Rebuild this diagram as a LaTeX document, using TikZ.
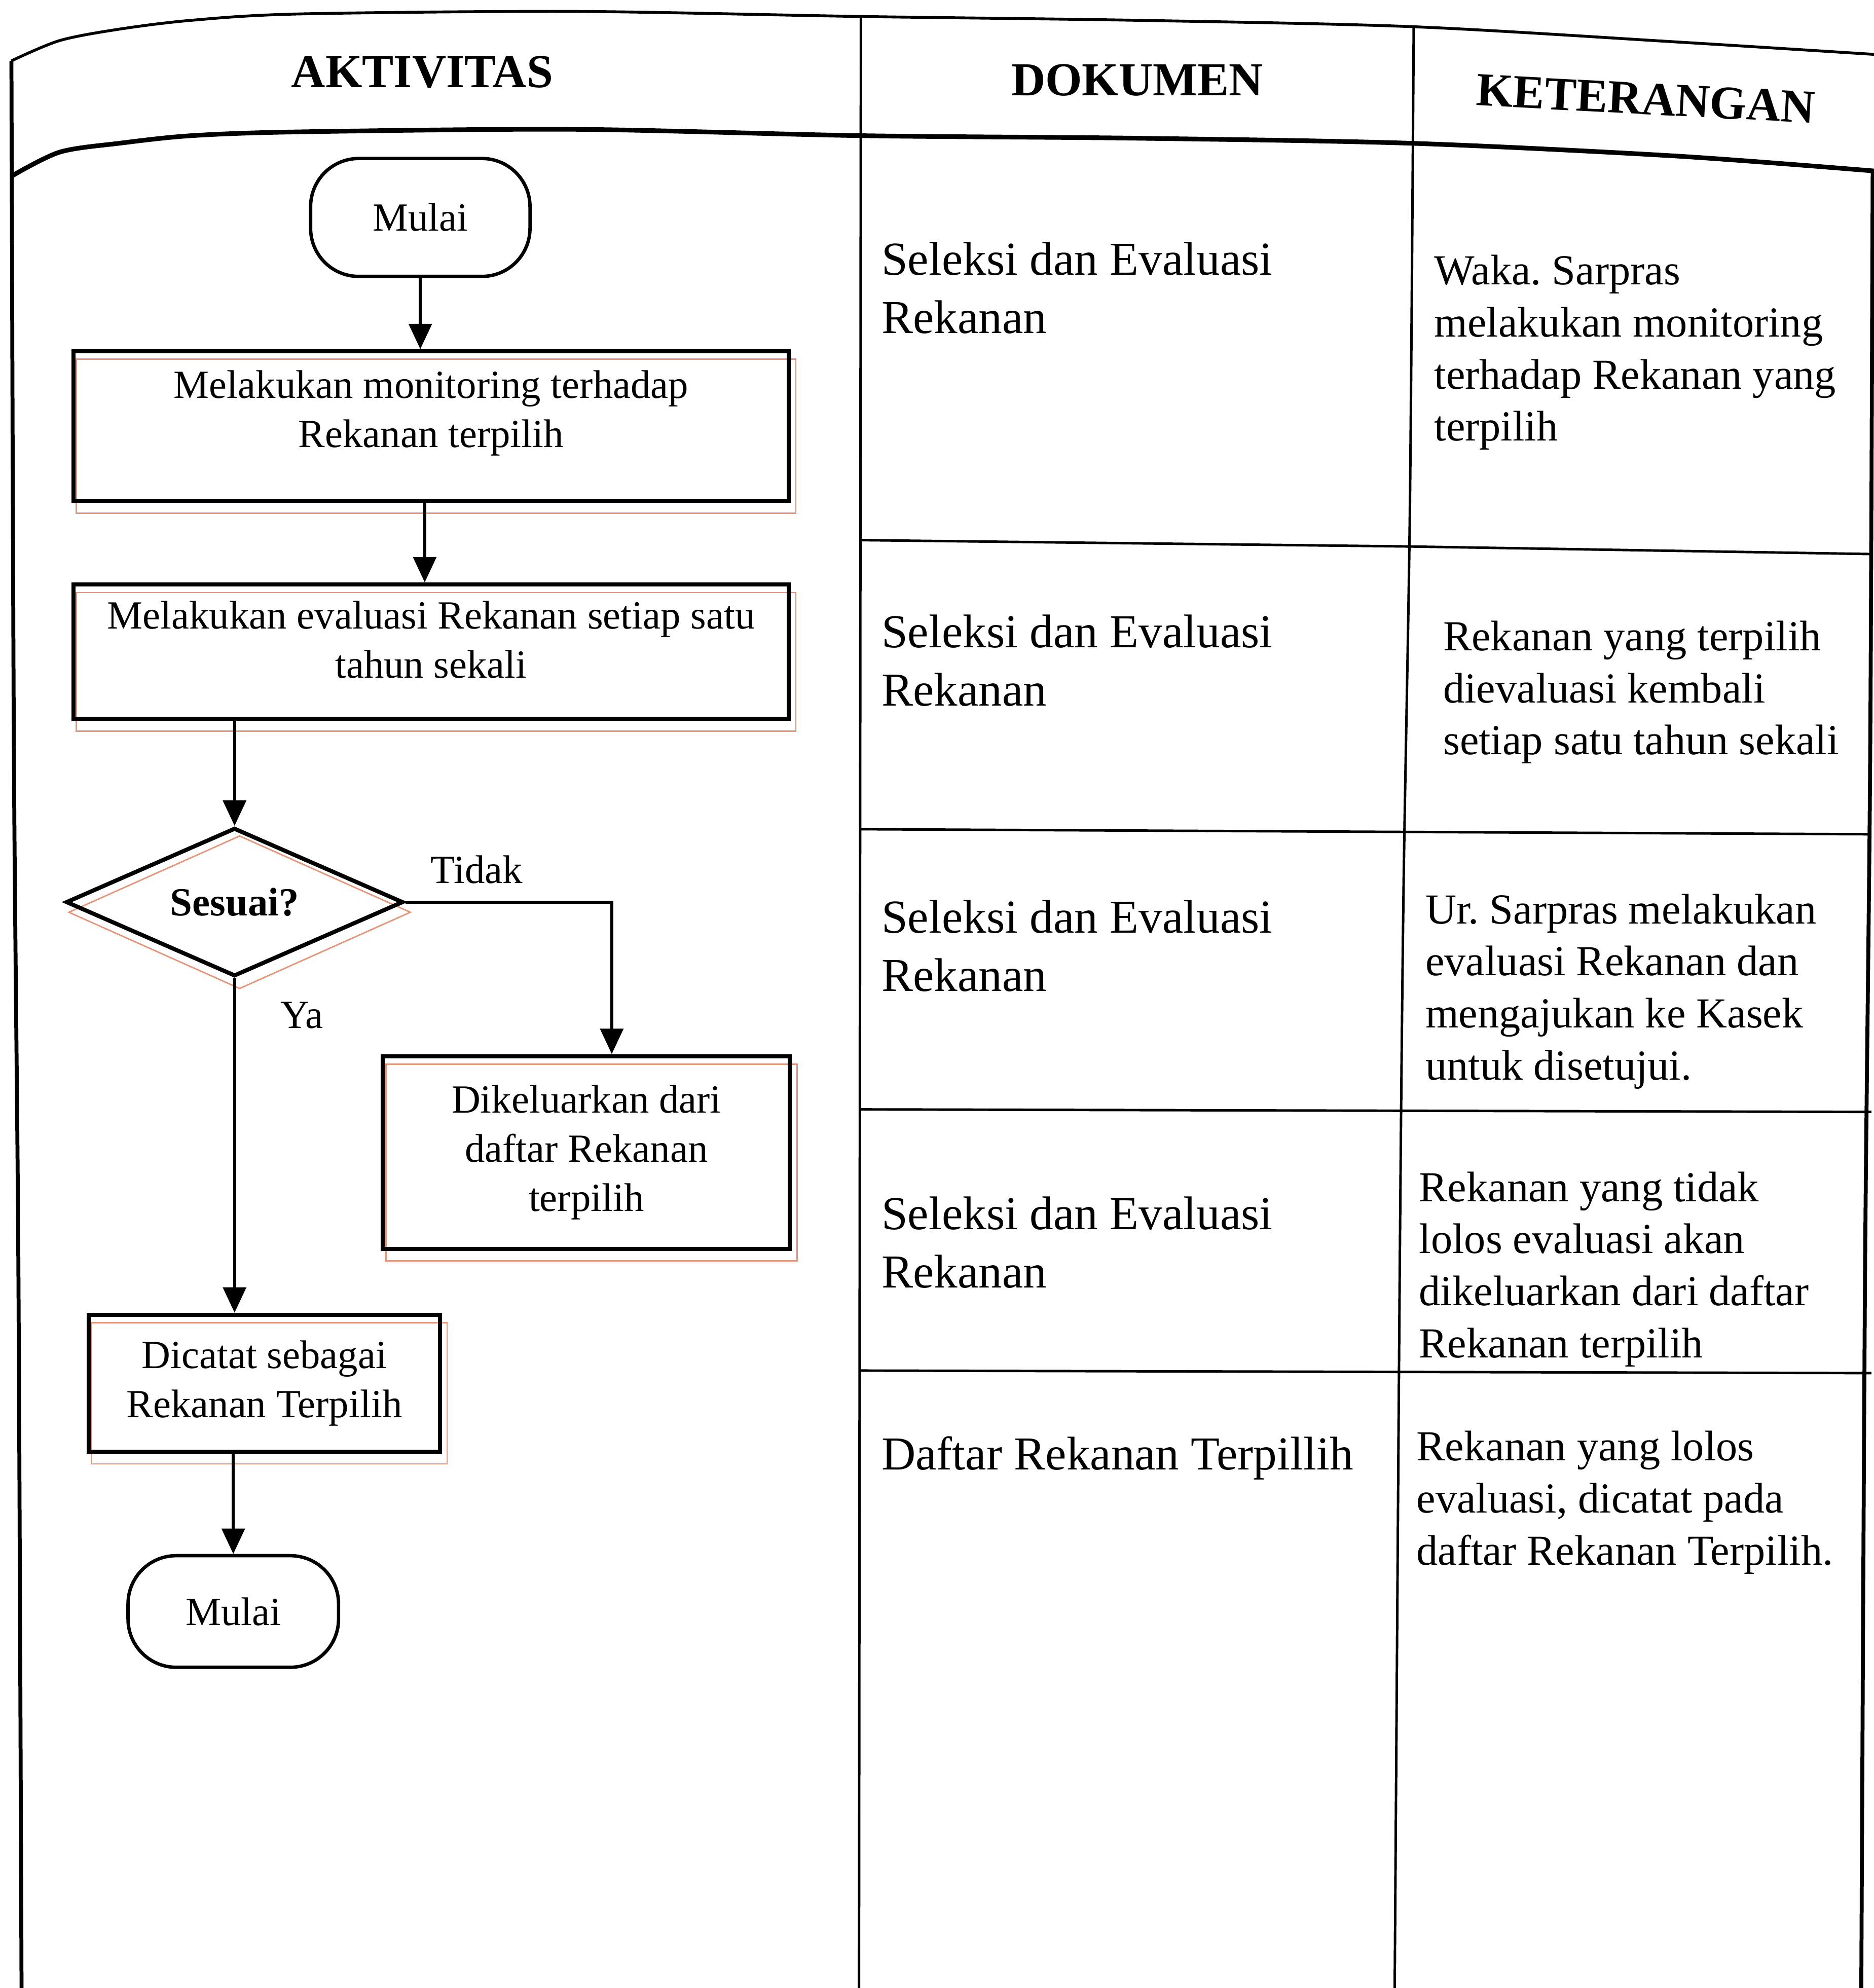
\documentclass[tikz,border=0pt]{standalone}
\usepackage{fontspec}
\setmainfont{Liberation Serif}
\frenchspacing
\usetikzlibrary{arrows.meta,shapes.geometric,backgrounds}
\definecolor{offsetcol}{HTML}{E5957A}
\newcommand\flowfont{\fontsize{22.4}{27.5}\selectfont}
\newcommand\docfont{\fontsize{26.5}{32.7}\selectfont}
\newcommand\notefont{\fontsize{24}{29.2}\selectfont}
\newcommand\headfont{\fontsize{26.5}{32}\selectfont}
% centred lines set a little above the middle of their box
\newcommand\liftlines[2]{\raisebox{#1}[\height][\depth]{\begin{tabular}{@{}c@{}}#2\end{tabular}}}
\tikzset{
  thinrule/.style={line width=1.4pt, black},
  borderrule/.style={line width=2.2pt, black},
  toprule/.style={line width=1.6pt, black},
  headrule/.style={line width=2.6pt, black},
  procbox/.style={draw, line width=2.3pt, rectangle, inner sep=0pt, align=center, font=\flowfont},
  termbox/.style={draw, line width=1.9pt, rectangle, rounded corners=0.95cm, inner sep=0pt, align=center, font=\flowfont},
  decbox/.style={draw, line width=2.3pt, diamond, aspect=2.27, inner sep=0pt, font=\flowfont\bfseries},
  flow/.style={line width=1.8pt, -{Triangle[length=0.5cm,width=0.45cm]}},
  offsetline/.style={draw=offsetcol, line width=0.8pt},
  headtext/.style={font=\headfont\bfseries, inner sep=0pt},
  doctext/.style={anchor=west, align=left, inner sep=0pt, font=\docfont},
  notetext/.style={anchor=west, align=left, inner sep=0pt, font=\notefont},
  edgelabel/.style={font=\flowfont, inner sep=0pt},
}
\begin{document}
\begin{tikzpicture}[x=0.025cm, y=-0.025cm]
\useasboundingbox (0,0) rectangle (1478,1568);

% table frame
\draw[toprule] plot[smooth, tension=0.5] coordinates {(9,48) (47,32) (94,23) (151,16) (236,11) (453,9) (679,13) (896,16) (1113,21) (1321,33) (1480,43)};
\draw[headrule] plot[smooth, tension=0.5] coordinates {(9,139) (47,120) (94,113) (151,107) (236,104) (453,102) (679,107) (896,109) (1113,113) (1321,123) (1480,135)};
\draw[borderrule] plot[smooth] coordinates {(9,48) (11,600) (14.5,1000) (17,1570)};
\draw[borderrule] plot[smooth] coordinates {(1477,134) (1475,600) (1471,1000) (1468,1570)};
\draw[thinrule] (679,13) -- (677.5,1570);
\draw[thinrule] plot[smooth] coordinates {(1115,21) (1112,400) (1107,700) (1104,1000) (1100,1570)};
\draw[thinrule] (678,426) -- (1110,431) -- (1476,437);
\draw[thinrule] (678,654) -- (1476,658);
\draw[thinrule] (678,875) -- (1476,877);
\draw[thinrule] (678,1081) -- (1476,1083);

% column headings
\node[headtext] (hA) at (333,57) {AKTIVITAS};
\node[headtext] (hD) at (897,63) {DOKUMEN};
\node[headtext, rotate=-3] (hK) at (1298,78) {KETERANGAN};

% documents
\node[doctext] (d1) at (695,227) {Seleksi dan Evaluasi\\Rekanan};
\node[doctext] (d2) at (695,521) {Seleksi dan Evaluasi\\Rekanan};
\node[doctext] (d3) at (695,746) {Seleksi dan Evaluasi\\Rekanan};
\node[doctext] (d4) at (695,980) {Seleksi dan Evaluasi\\Rekanan};
\node[doctext] (d5) at (695,1150) {Daftar Rekanan Terpillih};

% remarks
\node[notetext] (k1) at (1131,278) {Waka. Sarpras\\melakukan monitoring\\terhadap Rekanan yang\\terpilih};
\node[notetext] (k2) at (1138,546) {Rekanan yang terpilih\\dievaluasi kembali\\setiap satu tahun sekali};
\node[notetext] (k3) at (1124,782) {Ur. Sarpras melakukan\\evaluasi Rekanan dan\\mengajukan ke Kasek\\untuk disetujui.};
\node[notetext] (k4) at (1119,1001) {Rekanan yang tidak\\lolos evaluasi akan\\dikeluarkan dari daftar\\Rekanan terpilih};
\node[notetext] (k5) at (1117,1185) {Rekanan yang lolos\\evaluasi, dicatat pada\\daftar Rekanan Terpilih.};

% flowchart
\node[termbox, minimum width=4.325cm, minimum height=2.325cm] (start) at (331.5,171.5) {Mulai};
\node[procbox, minimum width=14.1cm, minimum height=2.95cm] (b1) at (340,336) {\liftlines{0.26cm}{Melakukan monitoring terhadap\\Rekanan terpilih}};
\node[procbox, minimum width=14.1cm, minimum height=2.65cm] (b2) at (340,514) {\liftlines{0.16cm}{Melakukan evaluasi Rekanan setiap satu\\tahun sekali}};
\node[decbox, minimum width=6.65cm, minimum height=2.925cm] (dec) at (185,711.5) {Sesuai?};
\node[procbox, minimum width=8.025cm, minimum height=3.8cm] (b3) at (462.5,909) {Dikeluarkan dari\\daftar Rekanan\\terpilih};
\node[procbox, minimum width=6.925cm, minimum height=2.7cm] (b4) at (208.5,1091) {Dicatat sebagai\\Rekanan Terpilih};
\node[termbox, minimum width=4.15cm, minimum height=2.2cm] (stop) at (184,1271) {Mulai};

\node[edgelabel] (lt) at (376,686) {Tidak};
\node[edgelabel] (ly) at (238,801) {Ya};

\draw[flow] (start.south) -- (start.south |- b1.north);
\draw[flow] ([xshift=-0.125cm]b1.south) -- ([xshift=-0.125cm]b2.north);
\draw[flow] (dec.north |- b2.south) -- (dec.north);
\draw[flow] (dec.east) -| ([xshift=0.5cm]b3.north);
\draw[flow] (dec.south) -- (dec.south |- b4.north);
\draw[flow] (stop.north |- b4.south) -- (stop.north);

% page background and offset outlines behind the boxes
\begin{pgfonlayer}{background}
\fill[white] (0,0) rectangle (1478,1568);
\foreach \n in {b1,b2,b3,b4}
  \draw[offsetline] ([shift={(4,8)}]\n.north west) rectangle ([shift={(4,8)}]\n.south east);
\draw[offsetline] ([shift={(4,8)}]dec.north) -- ([shift={(4,8)}]dec.east) -- ([shift={(4,8)}]dec.south) -- ([shift={(4,8)}]dec.west) -- cycle;
\end{pgfonlayer}
\end{tikzpicture}
\end{document}
